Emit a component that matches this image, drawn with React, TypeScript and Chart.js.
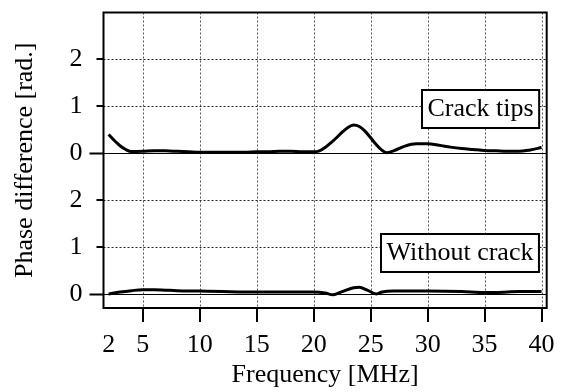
import { useEffect, useRef } from "react";
import { Chart, registerables } from "chart.js";

Chart.register(...registerables);

// ---- data ----
const crackFreq = [2, 2.5, 3, 3.5, 4, 5, 6, 7, 8, 9, 10, 11, 12, 13, 14, 15, 16, 17, 18, 19, 20, 20.5, 21, 21.5, 22, 22.5, 23, 23.5, 24, 24.5, 25, 25.5, 26, 26.4, 27, 28, 29, 30, 31, 32, 33, 34, 35, 36, 37, 38, 39, 40];
const crackPhase = [0.40, 0.27, 0.16, 0.08, 0.035, 0.04, 0.05, 0.05, 0.04, 0.03, 0.02, 0.02, 0.02, 0.02, 0.02, 0.03, 0.03, 0.04, 0.04, 0.03, 0.03, 0.05, 0.12, 0.22, 0.33, 0.45, 0.55, 0.60, 0.57, 0.47, 0.33, 0.18, 0.06, 0.01, 0.05, 0.15, 0.20, 0.20, 0.17, 0.13, 0.10, 0.08, 0.06, 0.05, 0.04, 0.04, 0.07, 0.12];

const noCrackFreq = [2, 3, 4, 5, 6, 7, 8, 10, 12, 15, 18, 20, 21, 21.7, 22.5, 23.5, 24, 24.7, 25.5, 26, 27, 30, 33, 35, 36, 38, 40];
const noCrackPhase = [0.0, 0.04, 0.07, 0.09, 0.09, 0.08, 0.07, 0.06, 0.05, 0.04, 0.04, 0.04, 0.02, -0.02, 0.05, 0.13, 0.14, 0.08, 0.0, 0.04, 0.06, 0.06, 0.05, 0.03, 0.03, 0.05, 0.05];

const seriesLabels = ["Crack tips", "Without crack"];
const panelOffset = 3; // upper panel drawn 3 units above lower panel

const xTickValues = [2, 5, 10, 15, 20, 25, 30, 35, 40];
const xTickLabels = ["2", "5", "10", "15", "20", "25", "30", "35", "40"];
const yTickValues = [0, 1, 2, 3, 4, 5];
const yTickLabels = ["0", "1", "2", "0", "1", "2"];

const X_MIN = 1.55;
const X_MAX = 40.45;
const Y_MIN = -0.3;
const Y_MAX = 6.0;

const FONT = "'Liberation Serif', 'Times New Roman', serif";

const decorPlugin = {
  id: "decor",
  beforeDatasetsDraw(chart: any) {
    const { ctx, chartArea, scales } = chart;
    const { left, right, top, bottom } = chartArea;
    const xs = scales.x;
    const ys = scales.y;
    ctx.save();
    // vertical dotted grid
    ctx.setLineDash([2, 2]);
    ctx.lineWidth = 1;
    ctx.strokeStyle = "#555";
    xTickValues.forEach((v) => {
      if (v < 5) return;
      const px = Math.round(xs.getPixelForValue(v)) + 0.5;
      ctx.beginPath();
      ctx.moveTo(px, top);
      ctx.lineTo(px, bottom);
      ctx.stroke();
    });
    // horizontal dotted grid
    ctx.strokeStyle = "#222";
    yTickValues.forEach((v) => {
      if (v % panelOffset === 0) return;
      const py = Math.round(ys.getPixelForValue(v)) + 0.5;
      ctx.beginPath();
      ctx.moveTo(left, py);
      ctx.lineTo(right, py);
      ctx.stroke();
    });
    ctx.setLineDash([]);
    // solid zero lines for both panels
    ctx.strokeStyle = "#000";
    yTickValues.forEach((v) => {
      if (v % panelOffset !== 0) return;
      const py = Math.round(ys.getPixelForValue(v)) + 0.5;
      ctx.lineWidth = 1;
      ctx.beginPath();
      ctx.moveTo(left, py);
      ctx.lineTo(right, py);
      ctx.stroke();
      ctx.lineWidth = 2;
      ctx.beginPath();
      ctx.moveTo(left - 14, py);
      ctx.lineTo(left, py);
      ctx.stroke();
    });
    // y tick marks
    ctx.lineWidth = 2;
    yTickValues.forEach((v) => {
      if (v % panelOffset === 0) return;
      const py = Math.round(ys.getPixelForValue(v));
      ctx.beginPath();
      ctx.moveTo(left - 7, py);
      ctx.lineTo(left, py);
      ctx.stroke();
    });
    // x tick marks
    xTickValues.forEach((v) => {
      if (v < 5) return;
      const px = Math.round(xs.getPixelForValue(v));
      ctx.beginPath();
      ctx.moveTo(px, bottom);
      ctx.lineTo(px, bottom + 14);
      ctx.stroke();
    });
    ctx.restore();
  },
  afterDatasetsDraw(chart: any) {
    const { ctx, chartArea, scales } = chart;
    const { left, right, top, bottom } = chartArea;
    const xs = scales.x;
    const ys = scales.y;
    ctx.save();
    ctx.strokeStyle = "#000";
    ctx.lineWidth = 2;
    ctx.strokeRect(left, top, right - left, bottom - top);

    // annotation boxes
    ctx.font = `26px ${FONT}`;
    const boxRight = xs.getPixelForValue(39.8);
    const centers = [panelOffset + 0.95, 0.88];
    seriesLabels.forEach((label, i) => {
      const w = ctx.measureText(label).width + 11;
      const h = 38;
      const cy = ys.getPixelForValue(centers[i]);
      const x0 = Math.round(boxRight - w);
      const y0 = Math.round(cy - h / 2);
      ctx.fillStyle = "#fff";
      ctx.fillRect(x0, y0, w, h);
      ctx.lineWidth = 2;
      ctx.strokeRect(x0, y0, w, h);
      ctx.fillStyle = "#000";
      ctx.textAlign = "center";
      ctx.textBaseline = "middle";
      ctx.fillText(label, x0 + w / 2, y0 + h / 2);
    });
    ctx.restore();
  },
};

function zeroPadding(s: any) {
  s.paddingTop = 0;
  s.paddingBottom = 0;
  s.paddingLeft = 0;
  s.paddingRight = 0;
}

export default function App() {
  const canvasRef = useRef<HTMLCanvasElement | null>(null);

  useEffect(() => {
    if (!canvasRef.current) return;
    Chart.defaults.font.family = FONT;
    Chart.defaults.font.size = 26;
    Chart.defaults.color = "#000";

    const chart = new Chart(canvasRef.current, {
      type: "line",
      data: {
        datasets: [
          {
            label: seriesLabels[0],
            data: crackFreq.map((f, i) => ({ x: f, y: crackPhase[i] + panelOffset })),
            borderColor: "#000",
            borderWidth: 3,
            pointRadius: 0,
            fill: false,
            cubicInterpolationMode: "monotone",
          },
          {
            label: seriesLabels[1],
            data: noCrackFreq.map((f, i) => ({ x: f, y: noCrackPhase[i] })),
            borderColor: "#000",
            borderWidth: 3,
            pointRadius: 0,
            fill: false,
            cubicInterpolationMode: "monotone",
          },
        ],
      },
      options: {
        animation: false,
        responsive: false,
        devicePixelRatio: 1,
        layout: { padding: { top: 12.5, right: 16.3, left: 0, bottom: 0 } },
        plugins: {
          legend: { display: false },
          tooltip: { enabled: false },
        },
        scales: {
          x: {
            type: "linear",
            min: X_MIN,
            max: X_MAX,
            afterBuildTicks: (s: any) => {
              s.ticks = xTickValues.map((v) => ({ value: v }));
            },
            afterFit: (s: any) => {
              s.height = 84;
              zeroPadding(s);
            },
            ticks: {
              autoSkip: false,
              maxRotation: 0,
              padding: 22,
              callback: (v: any) => xTickLabels[xTickValues.indexOf(Number(v))],
            },
            grid: { display: false, drawTicks: false },
            border: { display: false },
            title: {
              display: true,
              text: "Frequency [MHz]",
              padding: { top: 0, bottom: 1 },
            },
          },
          y: {
            type: "linear",
            min: Y_MIN,
            max: Y_MAX,
            afterBuildTicks: (s: any) => {
              s.ticks = yTickValues.map((v) => ({ value: v }));
            },
            afterFit: (s: any) => {
              s.width = 103.5;
              zeroPadding(s);
            },
            ticks: {
              padding: 21,
              callback: (v: any) => yTickLabels[yTickValues.indexOf(Number(v))],
            },
            grid: { display: false, drawTicks: false },
            border: { display: false },
            title: {
              display: true,
              text: "Phase difference [rad.]",
              padding: { top: 10, bottom: 0 },
            },
          },
        },
      },
      plugins: [decorPlugin],
    });
    return () => chart.destroy();
  }, []);

  return (
    <div style={{ position: "fixed", left: 0, top: 0, width: 563, height: 392, background: "#fff" }}>
      <canvas ref={canvasRef} width={563} height={392} style={{ display: "block" }} />
    </div>
  );
}
